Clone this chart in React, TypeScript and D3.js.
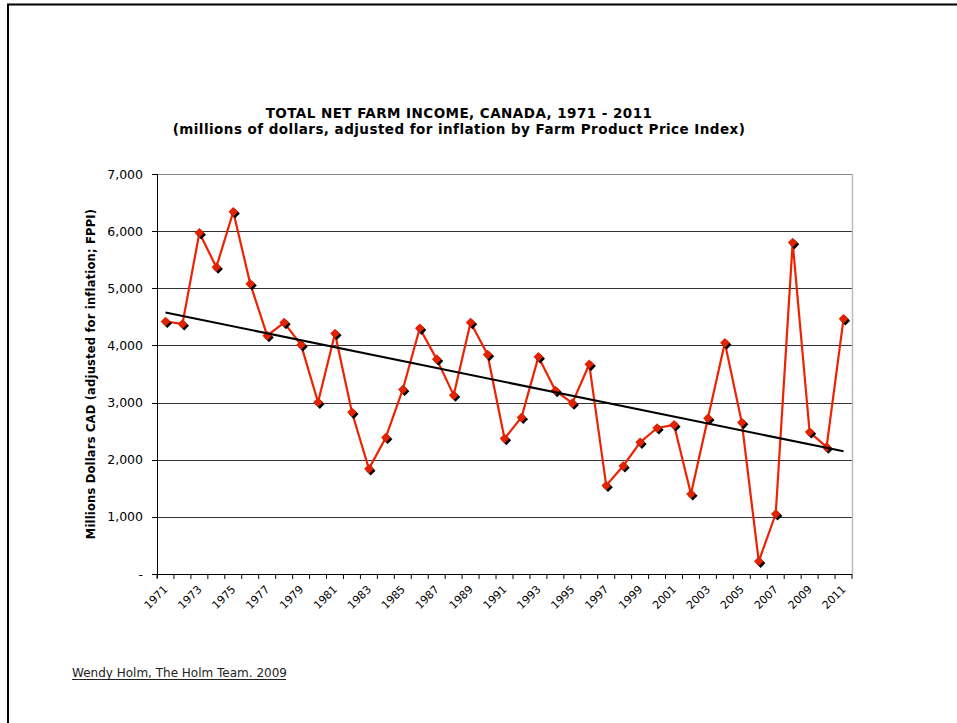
import React from "react";
import * as d3 from "d3";

const years: number[] = d3.range(1971, 2012);
const income: number[] = [
  4420, 4375, 5970, 5370, 6340, 5080, 4170, 4400, 4010, 3005,
  4210, 2830, 1840, 2390, 3230, 4300, 3760, 3130, 4400, 3840,
  2370, 2740, 3800, 3210, 2990, 3670, 1550, 1890, 2305, 2555,
  2610, 1400, 2725, 4045, 2650, 222, 1050, 5800, 2485, 2220, 4465,
];
const yTicks: number[] = [0, 1000, 2000, 3000, 4000, 5000, 6000, 7000];
const titleLines: string[] = [
  "TOTAL NET FARM INCOME, CANADA, 1971 - 2011",
  "(millions of dollars, adjusted for inflation by Farm Product Price Index)",
];
const yTitle = "Millions Dollars CAD (adjusted for inflation; FPPI)";
const source = "Wendy Holm, The Holm Team. 2009";

const W = 957, H = 723;
const M = { left: 157, right: 852, top: 174, bottom: 574 };
const FONT = "Verdana, 'DejaVu Sans', sans-serif";

export default function App() {
  const x = d3.scaleBand<number>().domain(years).range([M.left, M.right]);
  const cx = (yr: number) => (x(yr) as number) + x.bandwidth() / 2;
  const y = d3.scaleLinear().domain([0, 7000]).range([M.bottom, M.top]);

  // least squares trendline
  const idx = years.map((_, i) => i + 1);
  const mx = d3.mean(idx) as number;
  const my = d3.mean(income) as number;
  const slope =
    d3.sum(idx, (v, i) => (v - mx) * (income[i] - my)) /
    d3.sum(idx, (v) => (v - mx) * (v - mx));
  const intercept = my - slope * mx;
  const trend: [number, number][] = [
    [cx(years[0]), y(intercept + slope * 1)],
    [cx(years[years.length - 1]), y(intercept + slope * years.length)],
  ];

  const line = d3
    .line<number>()
    .x((_, i) => cx(years[i]))
    .y((d) => y(d));

  const fmt = (v: number) => (v === 0 ? "-" : d3.format(",")(v));
  const boundaries = d3.range(years.length + 1).map((i) => M.left + i * x.step());
  const diamond = (px: number, py: number, r: number) =>
    `M${px},${py - r}L${px + r},${py}L${px},${py + r}L${px - r},${py}Z`;

  return (
    <svg
      width={W}
      height={H}
      style={{ position: "absolute", left: 0, top: 0, background: "#fff" }}
      fontFamily={FONT}
    >
      {/* page border */}
      <line x1={8} x2={8} y1={4} y2={H} stroke="#000" strokeWidth={2} />
      <line x1={7} x2={W} y1={4.5} y2={4.5} stroke="#000" strokeWidth={2} />

      {/* title */}
      {titleLines.map((t, i) => (
        <text
          key={i}
          x={459}
          y={118 + i * 16}
          textAnchor="middle"
          fontWeight="bold"
          fontSize={13.5}
          letterSpacing={0.45}
          fill="#000"
        >
          {t}
        </text>
      ))}

      {/* gridlines */}
      {yTicks.map((t) => (
        <line
          key={t}
          x1={M.left}
          x2={M.right}
          y1={Math.round(y(t)) + 0.5}
          y2={Math.round(y(t)) + 0.5}
          stroke={t === 7000 ? "#888" : t === 0 ? "#000" : "#333"}
          strokeWidth={1}
        />
      ))}
      {/* right border */}
      <line x1={M.right + 0.5} x2={M.right + 0.5} y1={M.top} y2={M.bottom} stroke="#bbb" strokeWidth={1.5} />
      {/* left axis */}
      <line x1={M.left + 0.5} x2={M.left + 0.5} y1={M.top} y2={M.bottom + 4} stroke="#000" />
      {yTicks.map((t) => (
        <g key={"yt" + t}>
          <line
            x1={M.left - 5}
            x2={M.left}
            y1={Math.round(y(t)) + 0.5}
            y2={Math.round(y(t)) + 0.5}
            stroke="#000"
          />
          <text x={M.left - 14} y={y(t) + 4.5} textAnchor="end" fontSize={12.5} fill="#000">
            {fmt(t)}
          </text>
        </g>
      ))}
      {/* bottom axis ticks */}
      <line x1={M.left} x2={M.right} y1={M.bottom + 0.5} y2={M.bottom + 0.5} stroke="#000" />
      {boundaries.map((b, i) => (
        <line key={"xt" + i} x1={b} x2={b} y1={M.bottom} y2={M.bottom + 5} stroke="#000" />
      ))}
      {years.map((yr, i) =>
        i % 2 === 0 ? (
          <text
            key={"xl" + yr}
            transform={`translate(${cx(yr) + 3},${M.bottom + 16}) rotate(-45)`}
            textAnchor="end"
            fontSize={11}
            fill="#000"
          >
            {yr}
          </text>
        ) : null
      )}

      {/* y title */}
      <text
        transform={`translate(95,${(M.top + M.bottom) / 2}) rotate(-90)`}
        textAnchor="middle"
        fontWeight="bold"
        fontSize={11.5}
        letterSpacing={0.2}
        fill="#000"
      >
        {yTitle}
      </text>

      {/* series */}
      <path d={line(income) ?? ""} fill="none" stroke="#ee2200" strokeWidth={2.2} strokeLinejoin="round" />
      {income.map((v, i) => (
        <g key={"m" + i}>
          <path d={diamond(cx(years[i]) + 1.8, y(v) + 1.8, 4.8)} fill="#000" />
          <path d={diamond(cx(years[i]), y(v), 4.8)} fill="#e22200" />
        </g>
      ))}

      {/* trendline */}
      <line
        x1={trend[0][0]}
        y1={trend[0][1]}
        x2={trend[1][0]}
        y2={trend[1][1]}
        stroke="#000"
        strokeWidth={2}
      />

      {/* source */}
      <text x={72} y={677} fontSize={12} fill="#222">
        {source}
      </text>
      <line x1={72} x2={286} y1={679.5} y2={679.5} stroke="#222" strokeWidth={1} />
    </svg>
  );
}
